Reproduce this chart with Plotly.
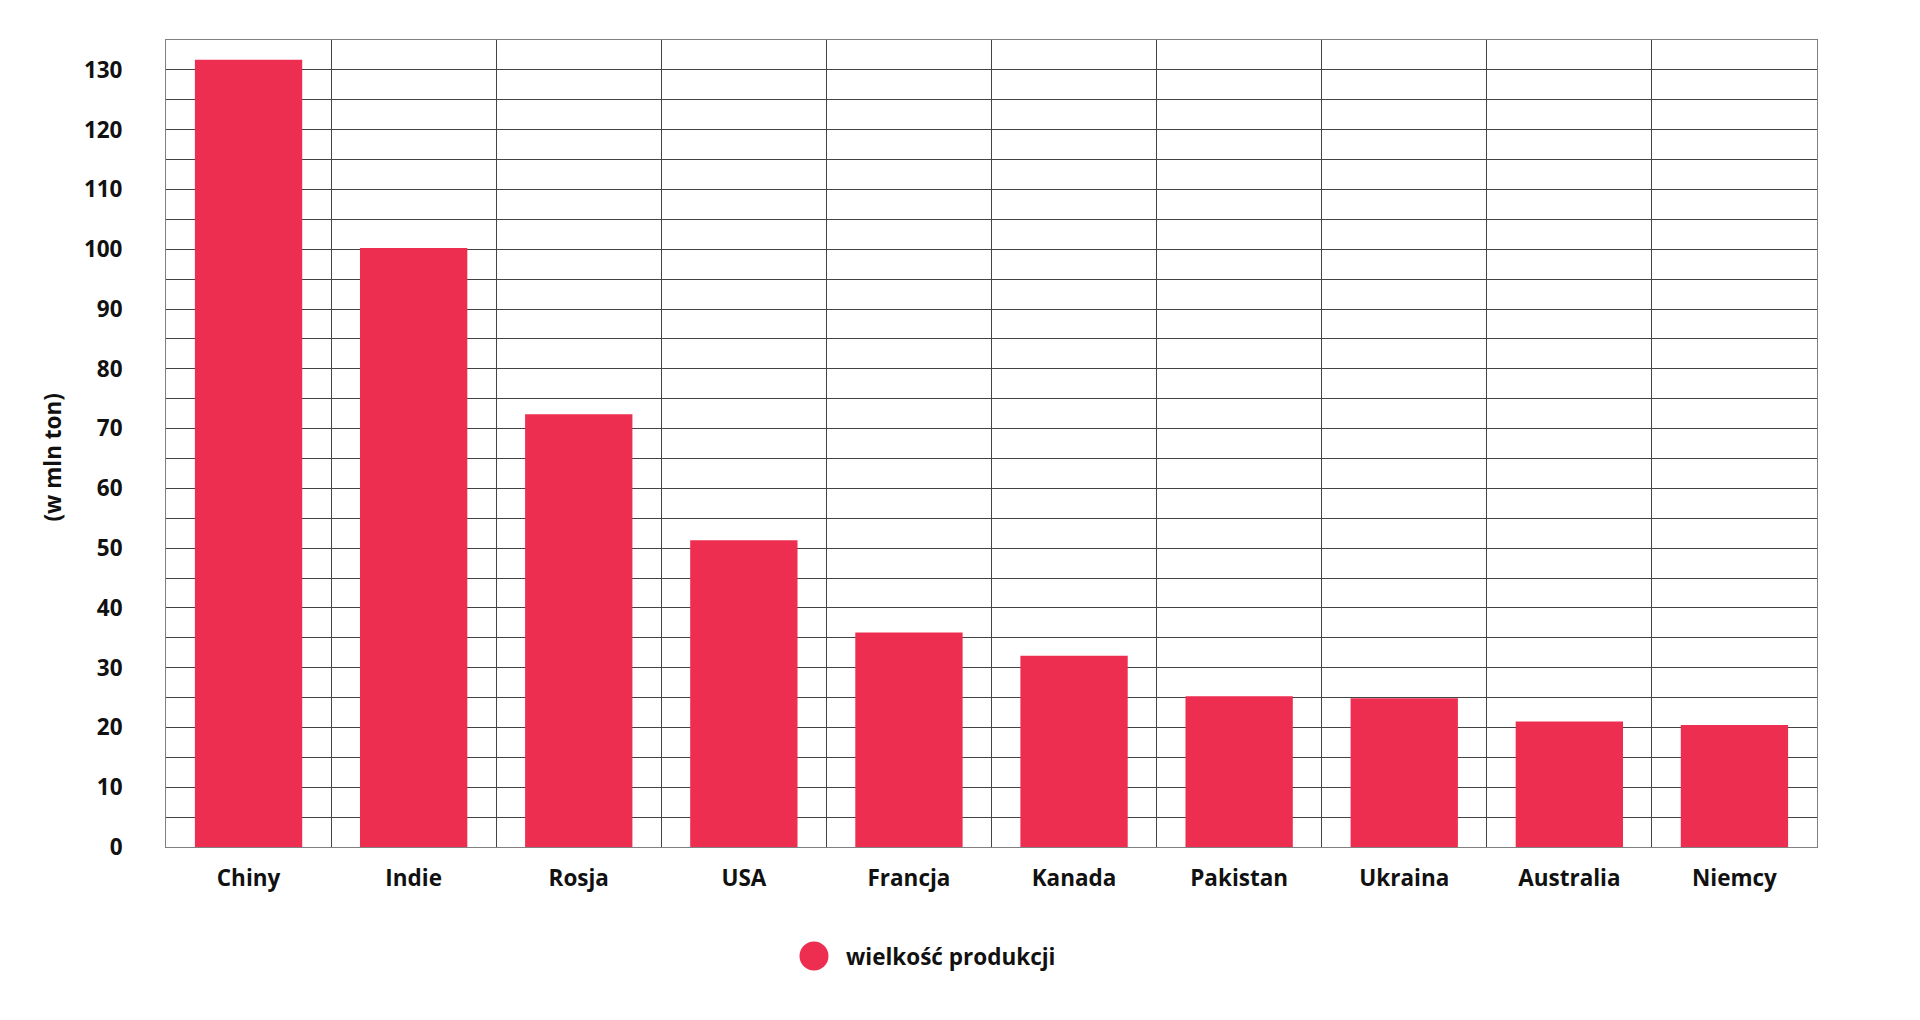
import plotly.graph_objects as go

categories = ["Chiny", "Indie", "Rosja", "USA", "Francja", "Kanada", "Pakistan", "Ukraina", "Australia", "Niemcy"]
values = [131.7, 100.2, 72.4, 51.3, 35.9, 32.0, 25.2, 24.9, 21.0, 20.4]
series_name = "wielkość produkcji"
y_title = "(w mln ton)"
y_ticks = [0, 10, 20, 30, 40, 50, 60, 70, 80, 90, 100, 110, 120, 130]

BAR_COLOR = "#EE2E50"
GRID = "#444444"
FONT = dict(family="Open Sans", size=22.5, color="#111111", weight=700)

# plot area in figure pixels
L, R, T, B = 158, 1809, 32, 839
PW, PH = R - L, B - T

def px(fx):
    return (fx - L) / PW

def py(fy):
    return (B - fy) / PH

fig = go.Figure()
fig.add_trace(go.Bar(x=categories, y=values, marker=dict(color=BAR_COLOR, line=dict(width=0)),
                     name=series_name, showlegend=False))

fig.update_layout(
    width=1920, height=1020,
    margin=dict(l=L, r=1920 - R, t=T, b=1020 - B),
    paper_bgcolor="white", plot_bgcolor="white",
    font=FONT,
    bargap=0.35,
    showlegend=False,
)
fig.update_xaxes(
    type="category", tickson="boundaries", showgrid=True, gridcolor=GRID, gridwidth=1,
    showline=True, linecolor="#808080", linewidth=1, mirror=True,
    ticks="", ticklabelstandoff=11, tickfont=FONT,
)
fig.update_yaxes(
    range=[0, 135], tickvals=y_ticks, showgrid=True, gridcolor=GRID, gridwidth=1,
    minor=dict(dtick=5, showgrid=True, gridcolor=GRID, gridwidth=1),
    showline=True, linecolor="#808080", linewidth=1, mirror=True,
    ticks="", ticklabelstandoff=38, tickfont=FONT, zeroline=False,
)

# y-axis title
fig.add_annotation(text=y_title, xref="paper", yref="paper", x=px(44), y=py(449.5),
                   textangle=-90, showarrow=False, font=FONT, xanchor="center", yanchor="middle")

# legend (circle + label)
fig.add_shape(type="circle", xref="paper", yref="paper",
              x0=px(791.5), x1=px(820.5), y0=py(962.5), y1=py(933.5),
              fillcolor=BAR_COLOR, line=dict(width=0))
fig.add_annotation(text=series_name, xref="paper", yref="paper", x=px(836), y=py(948),
                   showarrow=False, font=FONT, xanchor="left", yanchor="middle")

fig.write_html("out.html")
